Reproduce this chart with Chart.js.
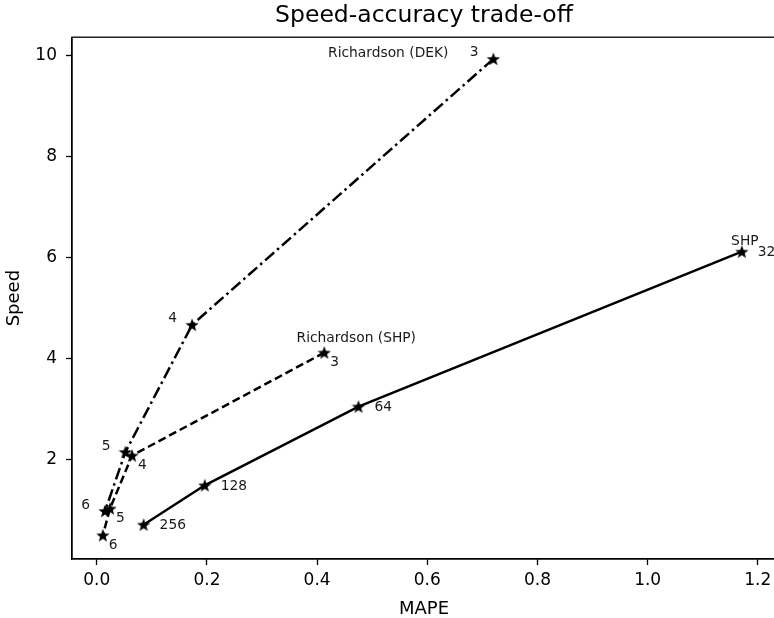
<!DOCTYPE html>
<html>
<head>
<meta charset="utf-8">
<script src="https://cdn.jsdelivr.net/npm/chart.js@4"></script>
<style>
  body { margin: 0; overflow: hidden; background: #fff; }
  #wrap { width: 790px; height: 620px; }
</style>
</head>
<body>
<div id="wrap"><canvas id="myChart"></canvas></div>
<script>
// SHP (solid)
var shpMape = [0.085, 0.196, 0.475, 1.171];
var shpSpeed = [0.71, 1.49, 3.05, 6.12];
var shpLabels = ["256", "128", "64", "32"];

// Richardson (SHP) (dashed)
var richShpMape = [0.413, 0.064, 0.024, 0.011];
var richShpSpeed = [4.12, 2.08, 1.03, 0.50];
var richShpLabels = ["3", "4", "5", "6"];

// Richardson (DEK) (dash-dot)
var richDekMape = [0.720, 0.173, 0.052, 0.015];
var richDekSpeed = [9.94, 4.67, 2.15, 0.98];
var richDekLabels = ["3", "4", "5", "6"];

var xTicks = [0, 0.2, 0.4, 0.6, 0.8, 1.0, 1.2];
var yTicks = [2, 4, 6, 8, 10];

var font = "'DejaVu Sans', sans-serif";

function toPoints(xs, ys) {
  var pts = [];
  for (var i = 0; i < xs.length; i++) pts.push({x: xs[i], y: ys[i]});
  return pts;
}

// filled star marker like matplotlib '*'
function makeStar(size) {
  var c = document.createElement("canvas");
  c.width = size; c.height = size;
  var ctx = c.getContext("2d");
  var cx = size / 2, cy = size / 2 + 0.6, R = size / 2, r = R * 0.42;
  ctx.beginPath();
  for (var i = 0; i < 10; i++) {
    var a = -Math.PI / 2 + i * Math.PI / 5;
    var rad = (i % 2 == 0) ? R : r;
    ctx.lineTo(cx + rad * Math.cos(a), cy + rad * Math.sin(a));
  }
  ctx.closePath();
  ctx.fillStyle = "#000";
  ctx.fill();
  return c;
}
var star = makeStar(14);

// how each series' point labels are placed
var labelStyle = [
  {labels: shpLabels, align: "left", dx: 16, dy: 1, name: "SHP", nameAt: 3, nameAlign: "center", ndx: 3, ndy: -10},
  {labels: richShpLabels, align: "left", dx: 6, dy: 10, name: "Richardson (SHP)", nameAt: 0, nameAlign: "center", ndx: 32, ndy: -14},
  {labels: richDekLabels, align: "right", dx: -15, dy: -6, name: "Richardson (DEK)", nameAt: 0, nameAlign: "right", ndx: -45, ndy: -5}
];

var pointLabels = {
  id: "pointLabels",
  afterDatasetsDraw: function (chart) {
    var ctx = chart.ctx;
    ctx.save();
    ctx.font = "13.8px " + font;
    ctx.fillStyle = "#1a1a1a";
    ctx.textBaseline = "middle";
    chart.data.datasets.forEach(function (ds, di) {
      var st = labelStyle[di];
      var meta = chart.getDatasetMeta(di);
      meta.data.forEach(function (el, i) {
        ctx.textAlign = st.align;
        ctx.fillText(st.labels[i], el.x + st.dx, el.y + st.dy);
        if (i == st.nameAt) {
          ctx.textAlign = st.nameAlign;
          ctx.fillText(st.name, el.x + st.ndx, el.y + st.ndy);
        }
      });
    });
    ctx.restore();
  }
};

var frame = {
  id: "frame",
  afterDraw: function (chart) {
    var a = chart.chartArea, ctx = chart.ctx;
    ctx.save();
    ctx.strokeStyle = "#000";
    ctx.lineWidth = 1.3;
    ctx.strokeRect(a.left, a.top, a.right - a.left, a.bottom - a.top);
    ctx.restore();
  }
};

new Chart("myChart", {
  type: "scatter",
  data: {
    datasets: [{
      data: toPoints(shpMape, shpSpeed),
      showLine: true,
      borderColor: "#000",
      borderWidth: 2.5,
      pointStyle: star,
      pointRadius: 7
    }, {
      data: toPoints(richShpMape, richShpSpeed),
      showLine: true,
      borderColor: "#000",
      borderWidth: 2.5,
      borderDash: [8, 4],
      pointStyle: star,
      pointRadius: 7
    }, {
      data: toPoints(richDekMape, richDekSpeed),
      showLine: true,
      borderColor: "#000",
      borderWidth: 2.5,
      borderDash: [12, 4, 2.5, 4],
      pointStyle: star,
      pointRadius: 7
    }]
  },
  options: {
    responsive: true,
    maintainAspectRatio: false,
    animation: false,
    layout: {padding: {left: 0, right: 14, top: 0, bottom: 0}},
    plugins: {
      legend: {display: false},
      tooltip: {enabled: false},
      title: {
        display: true,
        text: "Speed-accuracy trade-off",
        fullSize: false,
        color: "#000",
        font: {family: font, size: 23.5, weight: "normal"},
        padding: {top: 2, bottom: 7}
      }
    },
    scales: {
      x: {
        type: "linear",
        min: -0.045,
        max: 1.233,
        afterBuildTicks: function (s) { s.ticks = xTicks.map(function (v) { return {value: v}; }); },
        afterFit: function (s) { s.height = 61; },
        ticks: {
          color: "#000",
          font: {family: font, size: 17},
          padding: 5,
          maxRotation: 0,
          callback: function (v) { return v.toFixed(1); }
        },
        grid: {drawOnChartArea: false, tickLength: 6, color: "#000", tickWidth: 1.3},
        border: {display: true, color: "#000", width: 1.3},
        title: {display: true, text: "MAPE", color: "#000", font: {family: font, size: 18}, padding: {top: 0, bottom: 0}}
      },
      y: {
        type: "linear",
        min: 0.03,
        max: 10.37,
        afterBuildTicks: function (s) { s.ticks = yTicks.map(function (v) { return {value: v}; }); },
        afterFit: function (s) { s.width = 72; },
        ticks: {
          color: "#000",
          font: {family: font, size: 17},
          padding: 9
        },
        grid: {drawOnChartArea: false, tickLength: 6, color: "#000", tickWidth: 1.3},
        border: {display: true, color: "#000", width: 1.3},
        title: {display: true, text: "Speed", color: "#000", font: {family: font, size: 18}, padding: {top: 4, bottom: 0}}
      }
    }
  },
  plugins: [pointLabels, frame]
});
</script>
</body>
</html>
